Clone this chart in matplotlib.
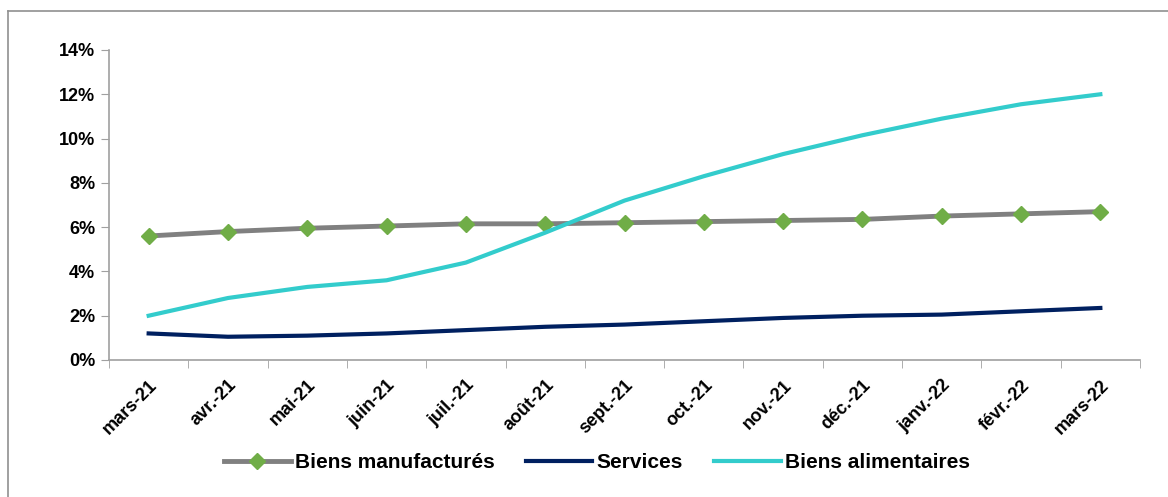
import matplotlib.pyplot as plt
from matplotlib.lines import Line2D
from matplotlib.ticker import FuncFormatter, FixedLocator

plt.rcParams['font.family'] = ['Liberation Sans Narrow', 'Liberation Sans', 'DejaVu Sans']

months = ['mars-21', 'avr.-21', 'mai-21', 'juin-21', 'juil.-21', 'août-21', 'sept.-21',
          'oct.-21', 'nov.-21', 'déc.-21', 'janv.-22', 'févr.-22', 'mars-22']
manufactures = [5.6, 5.8, 5.95, 6.05, 6.15, 6.15, 6.2, 6.25, 6.3, 6.35, 6.5, 6.6, 6.7]
services = [1.2, 1.05, 1.1, 1.2, 1.35, 1.5, 1.6, 1.75, 1.9, 2.0, 2.05, 2.2, 2.35]
alimentaires = [2.0, 2.8, 3.3, 3.6, 4.4, 5.75, 7.2, 8.3, 9.3, 10.15, 10.9, 11.55, 12.0]

W, H = 1168, 497
fig = plt.figure(figsize=(W / 100, H / 100), dpi=100)
ax = fig.add_axes([109 / W, 1 - 360 / H, (1140 - 109) / W, 310 / H])

x = list(range(len(months)))
ax.plot(x, manufactures, color='#808080', lw=3.5, marker='D', ms=8,
        markerfacecolor='#70AD47', markeredgecolor='#70AD47', label='Biens manufacturés', zorder=3)
ax.plot(x, services, color='#002060', lw=3, label='Services', zorder=3)
ax.plot(x, alimentaires, color='#33CCCC', lw=3, label='Biens alimentaires', zorder=3)

ax.set_xlim(-0.5, len(months) - 0.5)
ax.set_ylim(0, 14)
ax.set_yticks(range(0, 15, 2))
ax.yaxis.set_major_formatter(FuncFormatter(lambda v, p: f'{v:.0f}%'))
for t in ax.get_yticklabels():
    t.set_fontweight('bold')
    t.set_fontsize(13)

ax.set_xticks(x)
ax.set_xticklabels(months, rotation=45, ha='right', va='top', rotation_mode='anchor',
                   fontweight='bold', fontsize=13)
ax.xaxis.set_minor_locator(FixedLocator([i - 0.5 for i in range(len(months) + 1)]))
ax.tick_params(axis='x', which='major', length=0, pad=12)
ax.tick_params(axis='x', which='minor', length=6, color='#A0A0A0', direction='out')
ax.tick_params(axis='y', length=6, color='#A0A0A0', direction='out', pad=4)

for s in ['top', 'right']:
    ax.spines[s].set_visible(False)
for s in ['left', 'bottom']:
    ax.spines[s].set_color('#A0A0A0')
    ax.spines[s].set_linewidth(1.2)

fig.legend(loc='center', bbox_to_anchor=(597 / W, 1 - 463 / H), ncol=3, frameon=False,
           prop={'weight': 'bold', 'size': 15}, handlelength=3.2, columnspacing=1.5,
           handletextpad=0.2)

# outer chart frame: only left and top edges are visible in the crop
fig.lines.append(Line2D([8 / W, 8 / W], [0, 1 - 11 / H], transform=fig.transFigure,
                        color='#909090', lw=1.2))
fig.lines.append(Line2D([8 / W, 1], [1 - 11 / H, 1 - 11 / H], transform=fig.transFigure,
                        color='#909090', lw=1.2))

fig.savefig('out.png', dpi=100)
